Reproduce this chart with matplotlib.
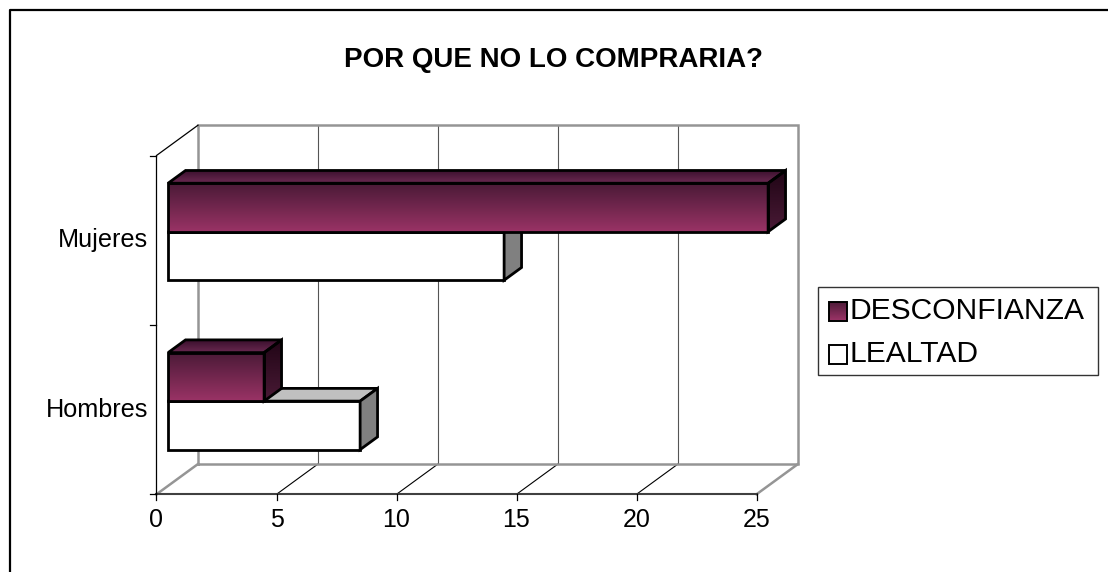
import numpy as np
import matplotlib.pyplot as plt
from matplotlib.patches import Polygon, Rectangle
from matplotlib.lines import Line2D
from matplotlib.colors import LinearSegmentedColormap

categories = ['Hombres', 'Mujeres']
desconfianza = [4, 25]
lealtad = [8, 14]
series_names = ['DESCONFIANZA', 'LEALTAD']
x_ticks = [0, 5, 10, 15, 20, 25]

plt.rcParams['font.family'] = ['Liberation Sans', 'DejaVu Sans']

W, H, DPI = 1108, 572, 100
fig = plt.figure(figsize=(W / DPI, H / DPI), dpi=DPI)
ax = fig.add_axes([0, 0, 1, 1])
ax.set_axis_off()

# front-left corner of the floor (pixels) and scale of both axes
X0_PX, Y0_PX = 156.5, 494.3
SX, SY = 24.0, 169.4
XMAX = x_ticks[-1]
NCAT = len(categories)

DX, DY = 41.5 / SX, 30.3 / SY      # full depth of the 3d box
Z0, Z1 = 0.28, 0.70                # bars sit in the middle of the depth
BAR_H = 48.5 / SY

WALL = '#959595'
PURPLE_TOP, PURPLE_BOT = '#4a1a36', '#9a3366'
EDGE_LW = 2.0


def px(x, y):
    return (x - X0_PX) / SX, (Y0_PX - y) / SY


def grad_poly(pts, c_top, c_bot, z, lw=EDGE_LW):
    edge = Polygon(pts, closed=True, facecolor='none', edgecolor='black',
                   lw=lw, zorder=z + 0.1, joinstyle='miter')
    ax.add_patch(edge)
    xs, ys = zip(*pts)
    cmap = LinearSegmentedColormap.from_list('grad', [c_bot, c_top])
    im = ax.imshow(np.linspace(0, 1, 256).reshape(-1, 1), cmap=cmap,
                   extent=(min(xs), max(xs), min(ys), max(ys)), origin='lower',
                   aspect='auto', zorder=z, interpolation='bilinear')
    im.set_clip_path(edge)


def flat_poly(pts, color, z, lw=EDGE_LW):
    ax.add_patch(Polygon(pts, closed=True, facecolor=color, edgecolor='black',
                         lw=lw, zorder=z, joinstyle='miter'))


def box(value, y_lo, y_hi, purple, z):
    fx0, fx1 = Z0 * DX, value + Z0 * DX
    fy0, fy1 = y_lo + Z0 * DY, y_hi + Z0 * DY
    bx, by = (Z1 - Z0) * DX, (Z1 - Z0) * DY
    front = [(fx0, fy0), (fx1, fy0), (fx1, fy1), (fx0, fy1)]
    top = [(fx0, fy1), (fx1, fy1), (fx1 + bx, fy1 + by), (fx0 + bx, fy1 + by)]
    side = [(fx1, fy0), (fx1 + bx, fy0 + by), (fx1 + bx, fy1 + by), (fx1, fy1)]
    if purple:
        grad_poly(front, PURPLE_TOP, PURPLE_BOT, z)
        grad_poly(top, '#3a0f2c', '#6b2a52', z)
        grad_poly(side, '#200515', '#4a1a36', z)
    else:
        flat_poly(front, 'white', z)
        flat_poly(top, '#c0c0c0', z)
        flat_poly(side, '#808080', z)


# back wall with vertical gridlines
for t in x_ticks[1:-1]:
    ax.plot([t + DX, t + DX], [DY, NCAT + DY], color='#555555', lw=0.8, zorder=1)
ax.plot([DX, XMAX + DX, XMAX + DX, DX, DX], [DY, DY, NCAT + DY, NCAT + DY, DY],
        color=WALL, lw=1.8, zorder=2, solid_joinstyle='miter')

# floor
for t in x_ticks[1:-1]:
    ax.plot([t, t + DX], [0, DY], color='black', lw=0.8, zorder=1)
ax.plot([0, DX], [0, DY], color=WALL, lw=1.8, zorder=2)
ax.plot([XMAX, XMAX + DX], [0, DY], color=WALL, lw=1.8, zorder=2)
ax.plot([0, XMAX], [0, 0], color='#404040', lw=1.5, zorder=3)

# left wall
ax.plot([0, 0], [0, NCAT], color='black', lw=0.9, zorder=3)
ax.plot([0, DX], [NCAT, NCAT + DY], color='black', lw=0.9, zorder=3)

# ticks and labels
for t in x_ticks:
    ax.plot([t, t], [0, -6 / SY], color='black', lw=0.9, zorder=3)
    ax.text(t, -33 / SY, str(t), ha='center', va='baseline', fontsize=18)
for k in range(NCAT + 1):
    ax.plot([0, -6 / SX], [k, k], color='black', lw=0.9, zorder=3)
for k, name in enumerate(categories):
    ax.text(-8 / SX, k + 0.5, name, ha='right', va='center', fontsize=18.2)

# bars, lower ones first so the upper bars sit over them
z = 5
for k in range(NCAT):
    yc = k + 0.5
    box(lealtad[k], yc - BAR_H, yc, False, z)
    z += 1
    box(desconfianza[k], yc, yc + BAR_H, True, z)
    z += 1

# legend
lx0, ly0 = px(818, 375)
lx1, ly1 = px(1098, 287)
ax.add_patch(Rectangle((lx0, ly0), lx1 - lx0, ly1 - ly0, facecolor='white',
                       edgecolor='#333333', lw=1.0, zorder=20))
for i, (name, cy) in enumerate(zip(series_names, [311, 354])):
    sx0, sy0 = px(829, cy + 9.5)
    sx1, sy1 = px(847, cy - 9.5)
    sq = [(sx0, sy0), (sx1, sy0), (sx1, sy1), (sx0, sy1)]
    if i == 0:
        grad_poly(sq, PURPLE_TOP, PURPLE_BOT, 21, lw=1.4)
    else:
        flat_poly(sq, 'white', 21, lw=1.4)
    tx, ty = px(850, cy)
    ax.text(tx, ty, name, ha='left', va='center', fontsize=21.6, zorder=22)

# title
tx, ty = px(553, 67)
ax.text(tx, ty, 'POR QUE NO LO COMPRARIA?', ha='center', va='baseline',
        fontsize=20, fontweight='bold')

# outer frame (only top and left edges fall inside the image)
fig.add_artist(Line2D([10 / W, 10 / W, 1], [0, 1 - 10 / H, 1 - 10 / H],
                      color='black', lw=1.6, transform=fig.transFigure))

ax.set_xlim(-X0_PX / SX, (W - X0_PX) / SX)
ax.set_ylim((Y0_PX - H) / SY, Y0_PX / SY)

fig.savefig('out.png', dpi=DPI, facecolor='white')
